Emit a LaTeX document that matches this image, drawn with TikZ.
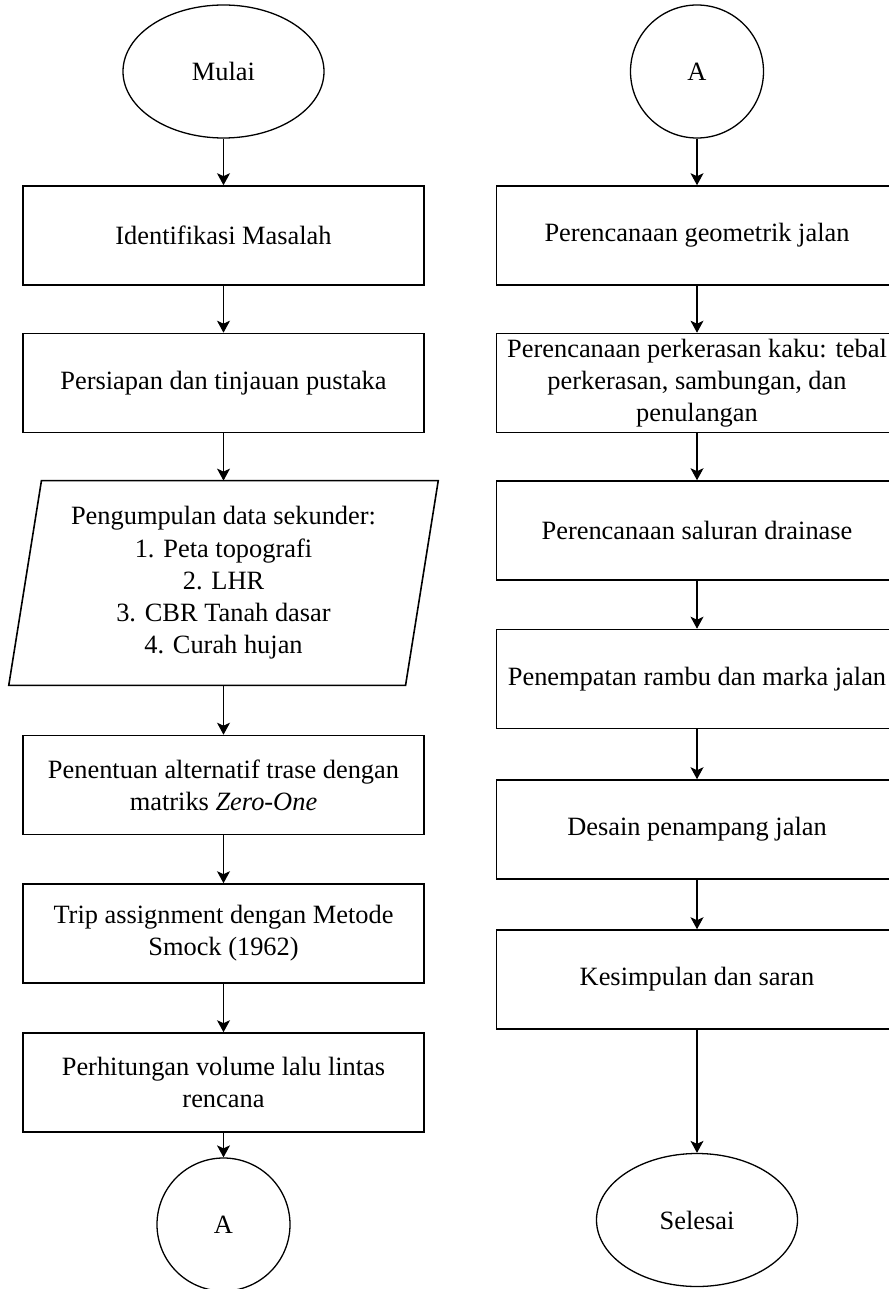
\documentclass[tikz,border=0pt]{standalone}
\usepackage{fontspec}
\setmainfont{Liberation Serif}
\usepackage{tikz}
\usetikzlibrary{calc, arrows.meta, shapes.geometric}

\begin{document}
\begin{tikzpicture}[
  x=0.5pt, y=-0.5pt,
  >={Stealth[length=6pt, width=6.5pt, inset=1.5pt]},
  every node/.style={font=\fontsize{13.2}{16.1}\selectfont},
  term/.style={ellipse, draw, line width=0.65pt, minimum width=100.5pt, minimum height=66.5pt, inner sep=0pt},
  conn/.style={circle, draw, line width=0.65pt, minimum size=66.5pt, inner sep=0pt},
  box/.style={rectangle, draw, line width=0.8pt, align=center, minimum width=200.5pt, minimum height=49.5pt, inner sep=0pt},
  iobox/.style={rectangle, align=center, minimum width=214.35pt, minimum height=102pt, inner sep=0pt},
  flow/.style={->, line width=0.55pt}
]
\useasboundingbox (0,0) rectangle (888,1289);
% left column
\node[term] (start) at (223.5,71.5) {Mulai};
\node[box] (ident) at (223.5,235.5) {Identifikasi Masalah};
\node[box] (prep) at (223.5,383) {Persiapan dan tinjauan pustaka};
\node[iobox] (data) at (223.5,583) {Pengumpulan data sekunder:\\1. Peta topografi\\2. LHR\\3. CBR Tanah dasar\\4. Curah hujan};
\draw[line width=0.8pt] ($(data.north west)+(32.7,0)$) -- (data.north east)
  -- ($(data.south east)+(-32.7,0)$) -- (data.south west) -- cycle;
\node[box] (route) at (223.5,785) {Penentuan alternatif trase dengan\\matriks \textit{Zero-One}};
\node[box] (trip) at (223.5,933.5) {Trip assignment dengan Metode\\Smock (1962)};
\node[box] (volume) at (223.5,1082.5) {Perhitungan volume lalu lintas\\rencana};
\node[conn] (connA) at (223.5,1224.5) {A};
\draw[flow] (start) -- (ident);
\draw[flow] (ident) -- (prep);
\draw[flow] (prep.south) -- (data.north);
\draw[flow] (data.south) -- (route.north);
\draw[flow] (route) -- (trip);
\draw[flow] (trip) -- (volume);
\draw[flow] (volume) -- (connA);
% right column
\node[conn] (connB) at (697,71.5) {A};
\node[box] (geo) at (697,235.5) {Perencanaan geometrik jalan};
\node[box] (pave) at (697,383) {Perencanaan perkerasan kaku: tebal\\perkerasan, sambungan, dan\\penulangan};
\node[box] (drain) at (697,530.5) {Perencanaan saluran drainase};
\node[box] (sign) at (697,679) {Penempatan rambu dan marka jalan};
\node[box] (section) at (697,829.5) {Desain penampang jalan};
\node[box] (concl) at (697,979.5) {Kesimpulan dan saran};
\node[term] (finish) at (697,1220) {Selesai};
\draw[flow] (connB) -- (geo);
\draw[flow] (geo) -- (pave);
\draw[flow] (pave) -- (drain);
\draw[flow] (drain) -- (sign);
\draw[flow] (sign) -- (section);
\draw[flow] (section) -- (concl);
\draw[flow] (concl) -- (finish);
\end{tikzpicture}
\end{document}
